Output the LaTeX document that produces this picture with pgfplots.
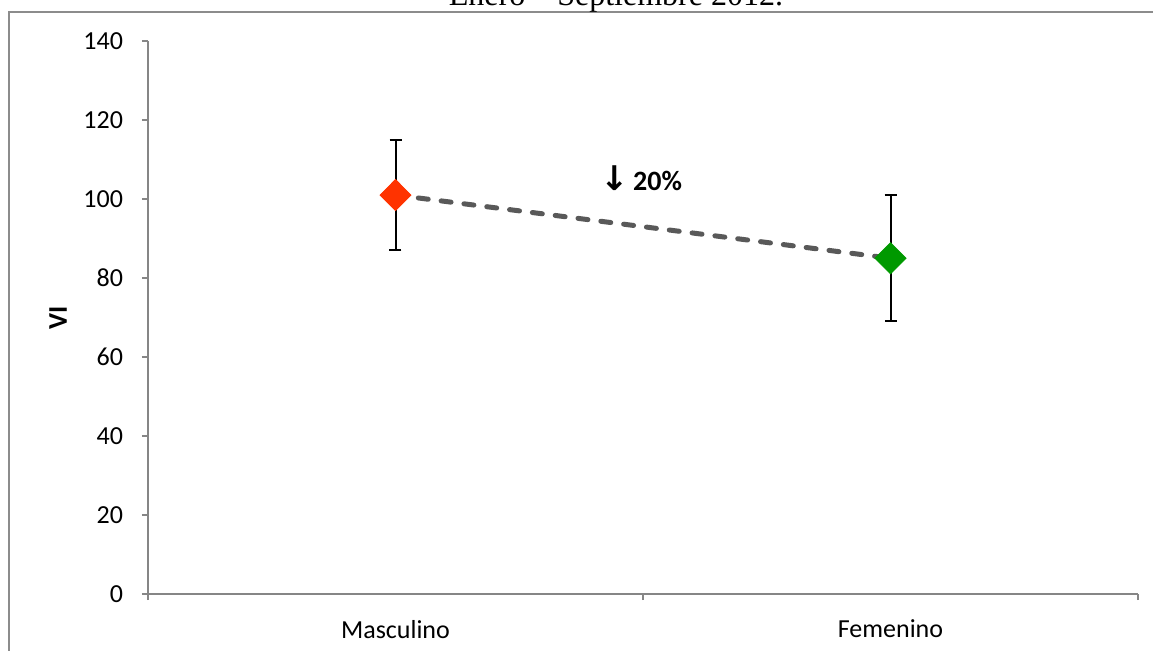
\documentclass[border=0pt]{standalone}
\usepackage{pgfplots}
\pgfplotsset{compat=1.18}
\usepackage{fontspec}
\setmainfont{Carlito}
\newfontfamily\timesfont{Liberation Serif}
\newfontfamily\symfont{DejaVu Sans}

\definecolor{axisgray}{HTML}{868686}
\definecolor{framegray}{HTML}{8C8C8C}
\definecolor{linegray}{HTML}{595959}
\definecolor{masc}{HTML}{FF3300}
\definecolor{fem}{HTML}{009900}

\begin{document}
\begin{tikzpicture}
\useasboundingbox (0pt,0pt) rectangle (576.5pt,325pt);
% chart area border (runs past the right and bottom edges)
\draw[framegray, line width=1pt] (600pt,319.2pt) -- (4.5pt,319.2pt) -- (4.5pt,-20pt);
% title, partly outside the visible area
\node[anchor=base, inner sep=0pt] at (308pt,322.5pt)
  {\timesfont\fontsize{16}{19}\selectfont Enero – Septiembre 2012.};

\begin{axis}[
  at={(74pt,28pt)}, anchor=south west,
  scale only axis, width=495pt, height=276.5pt,
  xmin=0, xmax=2, ymin=0, ymax=140,
  axis lines=left,
  axis line style={-, axisgray, line width=0.6pt},
  tick style={axisgray, line width=0.6pt},
  tick align=outside,
  major tick length=3pt,
  xtick={0,1,2}, xticklabels={},
  extra x ticks={0.5,1.5},
  extra x tick labels={Masculino,Femenino},
  extra x tick style={major tick length=0pt,
    xticklabel style={yshift=-9.5pt}},
  ytick={0,20,...,140},
  yticklabel style={xshift=-6pt},
  ticklabel style={font=\fontsize{13}{15}\selectfont},
  /pgf/number format/assume math mode=true,
  ylabel={\bfseries VI},
  ylabel style={at={(axis description cs:-0.0909,0.5)}, anchor=center,
    font=\fontsize{13.5}{15}\selectfont},
  clip=false,
]
% dashed connector between the two groups
\addplot[linegray, line width=2.5pt, dash pattern=on 5pt off 6.5pt, line cap=round]
  coordinates {(0.5,101) (1.5,85)};

\addplot[only marks, mark=diamond*, mark size=7.75pt,
  mark options={draw=masc, fill=masc, xscale=1.33},
  error bars/.cd, y dir=both, y explicit,
  error bar style={black, line width=1pt},
  error mark options={rotate=90, mark size=3pt, black, line width=1pt}]
  coordinates {(0.5,101) +- (0,14)};

\addplot[only marks, mark=diamond*, mark size=7.75pt,
  mark options={draw=fem, fill=fem, xscale=1.33},
  error bars/.cd, y dir=both, y explicit,
  error bar style={black, line width=1pt},
  error mark options={rotate=90, mark size=3pt, black, line width=1pt}]
  coordinates {(1.5,85) +- (0,16)};

\node[font=\bfseries\fontsize{14}{16}\selectfont] at (axis cs:0.996,105.3)
  {{\symfont\bfseries\fontsize{17}{17}\selectfont ↓}\,20\%};
\end{axis}
\end{tikzpicture}
\end{document}
